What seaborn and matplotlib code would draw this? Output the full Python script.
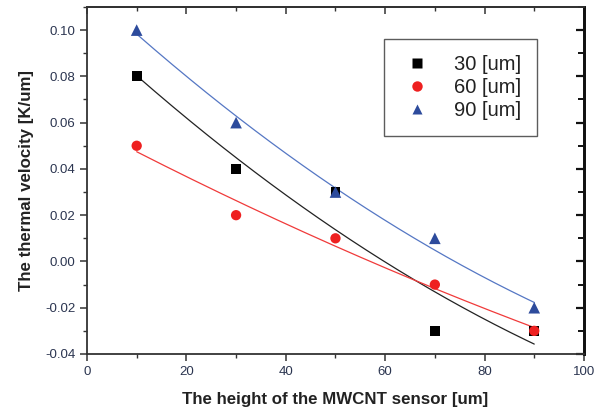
import numpy as np
import pandas as pd
import matplotlib
matplotlib.use("Agg")
import matplotlib.pyplot as plt
from matplotlib.ticker import MultipleLocator
from matplotlib.lines import Line2D
import seaborn as sns

sns.set_style("ticks")
plt.rcParams["font.family"] = ["Liberation Sans", "DejaVu Sans"]

# Sensor heights [um] and measured thermal velocity [K/um] per series
heights = [10, 30, 50, 70, 90]
v_30 = [0.08, 0.04, 0.03, -0.03, -0.03]
v_60 = [0.05, 0.02, 0.01, -0.01, -0.03]
v_90 = [0.10, 0.06, 0.03, 0.01, -0.02]
series_labels = ["30 [um]", "60 [um]", "90 [um]"]

marker_colors = {"30 [um]": "#000000", "60 [um]": "#ee2020", "90 [um]": "#2d4b9c"}
line_colors = {"30 [um]": "#222222", "60 [um]": "#f03a3a", "90 [um]": "#5577c4"}
markers = {"30 [um]": "s", "60 [um]": "o", "90 [um]": "^"}
marker_sizes = {"30 [um]": 50, "60 [um]": 55, "90 [um]": 70}

df = pd.DataFrame({
    "height": heights * 3,
    "velocity": v_30 + v_60 + v_90,
    "series": np.repeat(series_labels, len(heights)),
})

# Second-order fit curves through each series
fit_rows = []
xs = np.linspace(min(heights), max(heights), 200)
for lab, vals in zip(series_labels, [v_30, v_60, v_90]):
    coef = np.polyfit(heights, vals, 2)
    for x, y in zip(xs, np.polyval(coef, xs)):
        fit_rows.append((x, y, lab))
fit = pd.DataFrame(fit_rows, columns=["height", "velocity", "series"])

fig = plt.figure(figsize=(6.02, 4.09), dpi=100)
ax = fig.add_axes([0.1445, 0.1345, 0.8255, 0.8485])

sns.lineplot(data=fit, x="height", y="velocity", hue="series",
             palette=line_colors, linewidth=0.9, legend=False, ax=ax)
sns.scatterplot(data=df, x="height", y="velocity", hue="series", style="series",
                size="series", sizes=marker_sizes,
                palette=marker_colors, markers=markers, edgecolor="none",
                legend=False, ax=ax, zorder=3)

ax.set_xlim(0, 100)
ax.xaxis.set_major_locator(MultipleLocator(20))
ax.xaxis.set_minor_locator(MultipleLocator(10))
ytick_vals = np.arange(-0.04, 0.1001, 0.02)
ax.set_yticks(ytick_vals)
ax.set_yticklabels([f"{v:.2f}" for v in ytick_vals])
ax.yaxis.set_minor_locator(MultipleLocator(0.01))
ax.set_ylim(-0.04, 0.11)

ax.tick_params(which="both", direction="out", top=False, right=False,
               labelsize=9.5, labelcolor="#2b3550", color="#333333")
ax.tick_params(which="major", length=5, width=1.1)
ax.tick_params(which="minor", length=3, width=1.0)

# Inward ticks on the top and right edges
ax_top = ax.secondary_xaxis("top")
ax_top.xaxis.set_major_locator(MultipleLocator(20))
ax_top.xaxis.set_minor_locator(MultipleLocator(10))
ax_top.tick_params(which="both", direction="in", labeltop=False, color="#333333")
ax_top.tick_params(which="major", length=5, width=1.1)
ax_top.tick_params(which="minor", length=3, width=1.0)
ax_top.spines["top"].set_linewidth(1.3)
ax_right = ax.secondary_yaxis("right")
ax_right.yaxis.set_major_locator(MultipleLocator(0.02))
ax_right.yaxis.set_minor_locator(MultipleLocator(0.01))
ax_right.tick_params(which="both", direction="in", labelright=False, color="#111111")
ax_right.tick_params(which="major", length=6, width=1.6)
ax_right.tick_params(which="minor", length=4, width=1.4)
ax_right.spines["right"].set_linewidth(2.0)

for side in ["left", "bottom", "top", "right"]:
    ax.spines[side].set_visible(True)
    ax.spines[side].set_color("#333333")
ax.spines["left"].set_linewidth(1.3)
ax.spines["bottom"].set_linewidth(1.3)
ax.spines["top"].set_linewidth(1.3)
ax.spines["right"].set_linewidth(2.0)
ax.spines["right"].set_color("#111111")

ax.set_xlabel("The height of the MWCNT sensor [um]", fontsize=12.2,
              fontweight="bold", color="#222222", labelpad=10)
ax.set_ylabel("The thermal velocity [K/um]", fontsize=12.2,
              fontweight="bold", color="#222222", labelpad=8)

handles = [Line2D([], [], linestyle="none", marker=markers[l],
                  markerfacecolor=marker_colors[l], markeredgecolor="none",
                  markersize=7.5, label=l) for l in series_labels]
leg = ax.legend(handles=handles, loc="upper left", bbox_to_anchor=(0.597, 0.908),
                frameon=True, fancybox=False, fontsize=14.5, handletextpad=1.0,
                borderpad=0.8, labelspacing=0.2, handlelength=1.7,
                borderaxespad=0)
leg.get_frame().set_edgecolor("#333333")
leg.get_frame().set_linewidth(1.0)
for t in leg.get_texts():
    t.set_color("#222222")

fig.savefig("out.png", dpi=100)
